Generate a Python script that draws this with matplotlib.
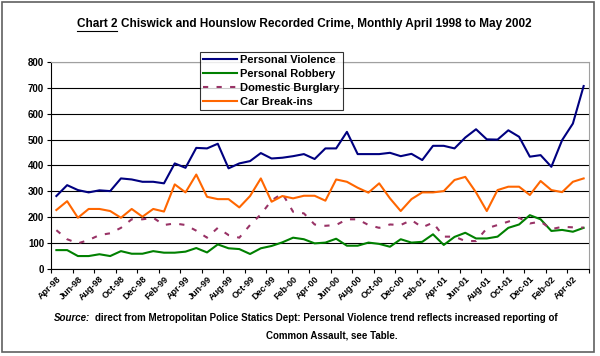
"""Chart 2: Chiswick and Hounslow recorded crime, monthly Apr 1998 - May 2002"""

import numpy as np
from matplotlib import pyplot as plt
from matplotlib.patches import Rectangle
from matplotlib.lines import Line2D

# monthly values, April 1998 to May 2002 (50 months)
month_names = ["Jan", "Feb", "Mar", "Apr", "May", "Jun",
               "Jul", "Aug", "Sep", "Oct", "Nov", "Dec"]
months = [f"{m}-{y % 100:02d}" for y in range(1998, 2003) for m in month_names]
months = months[3:53]

personal_violence = [
    282, 324, 305, 296, 304, 301, 350, 346, 337, 337,
    331, 408, 391, 468, 466, 484, 389, 408, 417, 448,
    427, 430, 436, 444, 425, 466, 466, 530, 444, 444,
    444, 449, 436, 445, 421, 476, 476, 466, 508, 540,
    501, 500, 536, 511, 434, 440, 395, 498, 562, 707,
]
personal_robbery = [
    73, 73, 50, 50, 57, 50, 69, 59, 59, 69,
    63, 63, 67, 81, 64, 95, 80, 77, 58, 80,
    89, 103, 121, 115, 99, 102, 117, 90, 90, 102,
    97, 86, 115, 102, 105, 134, 93, 124, 140, 118,
    118, 125, 159, 172, 208, 192, 147, 151, 144, 159,
]
domestic_burglary = [
    150, 115, 99, 112, 131, 138, 159, 192, 192, 198,
    170, 176, 170, 148, 121, 159, 131, 121, 170, 211,
    265, 292, 221, 215, 172, 167, 170, 192, 192, 170,
    159, 172, 170, 189, 161, 179, 125, 125, 108, 108,
    157, 170, 183, 198, 176, 183, 154, 163, 161, 160,
]
car_breakins = [
    228, 262, 198, 232, 232, 224, 198, 232, 202, 232,
    222, 327, 296, 365, 279, 270, 270, 238, 282, 350,
    260, 282, 273, 283, 283, 264, 346, 337, 314, 295,
    331, 273, 224, 270, 296, 296, 301, 344, 356, 296,
    224, 305, 318, 318, 286, 340, 305, 297, 337, 350,
]

series = [
    ("Personal Violence", personal_violence, "#000080", "-"),
    ("Personal Robbery", personal_robbery, "#008000", "-"),
    ("Domestic Burglary", domestic_burglary, "#993366", (0, (2.5, 4))),
    ("Car Break-ins", car_breakins, "#FF6600", "-"),
]

plt.rcParams["font.family"] = ["Liberation Sans", "DejaVu Sans"]
plt.rcParams["font.weight"] = "bold"

W, H = 600, 356
fig = plt.figure(figsize=(W / 100, H / 100), dpi=100)
ax = fig.add_axes([0.085, 0.2444, 0.8967, 0.5815])

x = np.arange(len(months))
for name, vals, colour, style in series:
    ax.plot(x, vals, color=colour, linestyle=style, linewidth=1.5, label=name)

ax.set_xlim(-0.5, len(months) - 0.5)
ax.set_ylim(0, 800)
ax.set_yticks(range(0, 801, 100))
ax.tick_params(axis="y", labelsize=7, length=3, width=0.8, pad=2)
for lbl in ax.get_yticklabels():
    lbl.set_fontweight("bold")

# tick marks between categories, labels on every second month
ax.set_xticks(np.arange(-0.5, len(months), 2))
ax.set_xticklabels([])
ax.set_xticks(x[::2], minor=True)
ax.set_xticklabels(months[::2], minor=True, rotation=45, ha="right",
                   rotation_mode="anchor", fontsize=6.5, fontweight="bold")
ax.tick_params(axis="x", which="major", length=3, width=0.8)
ax.tick_params(axis="x", which="minor", length=0, pad=4)

ax.grid(axis="y", color="black", linewidth=0.8)
ax.set_axisbelow(True)
for side in ("top", "right"):
    ax.spines[side].set_color("#a0a0a0")
for side in ("left", "bottom"):
    ax.spines[side].set_color("black")

leg = ax.legend(loc="upper left", bbox_to_anchor=(0.277, 1.048), fontsize=8,
                frameon=True, fancybox=False, edgecolor="black",
                borderpad=0.3, labelspacing=0.35, handlelength=3.0,
                handletextpad=0.3, borderaxespad=0)
leg.get_frame().set_linewidth(0.8)
for t in leg.get_texts():
    t.set_fontweight("bold")

# title with underlined "Chart 2"
ty = 1 - 24 / H
t1 = fig.text(0.128, ty, "Chart 2", fontsize=8.5, fontweight="bold", va="center")
fig.canvas.draw()
r = fig.canvas.get_renderer()
bb = t1.get_window_extent(r)
fig.text(bb.x1 / W + 0.006, ty,
         "Chiswick and Hounslow Recorded Crime, Monthly April 1998 to May 2002",
         fontsize=8.5, fontweight="bold", va="center")
fig.add_artist(Line2D([bb.x0 / W, bb.x1 / W],
                      [(bb.y0 - 1) / H, (bb.y0 - 1) / H],
                      color="black", linewidth=0.8))

# source note
sy = 1 - 318 / H
s1 = fig.text(54 / W, sy, "Source:", fontsize=7, fontweight="bold",
              style="italic", va="center")
bb = s1.get_window_extent(r)
fig.text(bb.x1 / W + 0.008, sy,
         "direct from Metropolitan Police Statics Dept: Personal Violence "
         "trend reflects increased reporting of",
         fontsize=7, fontweight="bold", va="center")
fig.text(0.553, 1 - 335 / H, "Common Assault, see Table.",
         fontsize=7, fontweight="bold", ha="center", va="center")

# outer chart border
fig.add_artist(Rectangle((0.004, 0.012), 0.986, 0.982, transform=fig.transFigure,
                         fill=False, edgecolor="#606060", linewidth=1.2))

fig.savefig("out.png", dpi=100)
plt.close()
